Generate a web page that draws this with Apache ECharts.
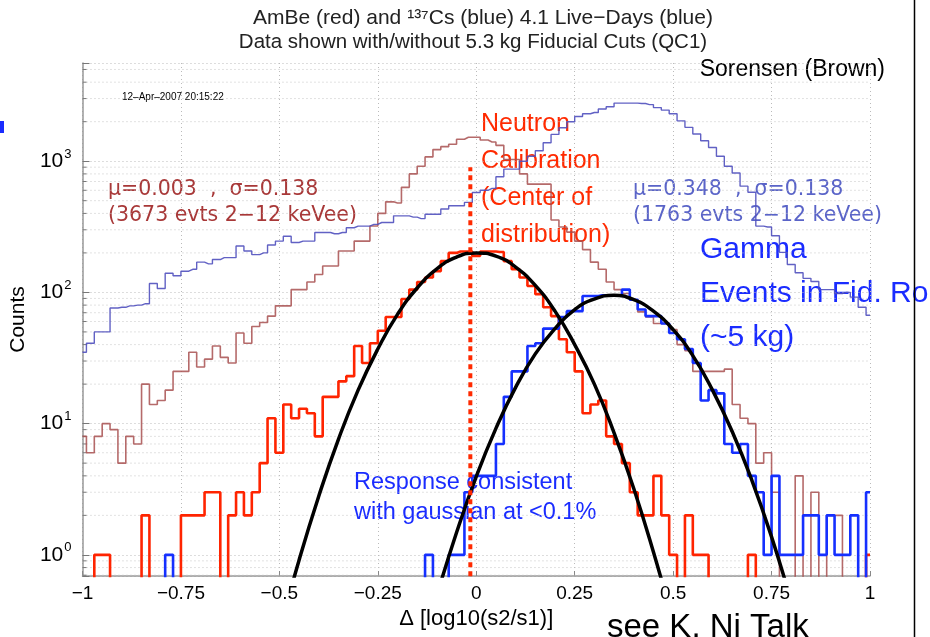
<!DOCTYPE html>
<html>
<head>
<meta charset="utf-8">
<script src="https://cdn.jsdelivr.net/npm/echarts@6/dist/echarts.min.js"></script>
<style>
html, body { margin: 0; padding: 0; background: #fff; }
#chart { width: 930px; height: 637px; }
</style>
</head>
<body>
<div id="chart"></div>
<script>
var NARROW = "'Liberation Sans Narrow', 'Liberation Sans', Arial, sans-serif";
var SANS = "'Liberation Sans', Arial, sans-serif";
var WIDE = "'DejaVu Sans', 'Liberation Sans', sans-serif";

// histogram binning: bin centres run from -1 to 1 in steps of 0.02
var binStart = -1;
var binWidth = 0.02;
var FLOOR = 0.1; // empty bins are drawn below the axis and clipped

// AmBe, no fiducial cut (brown)
var ambeAll = [8, 6, 8, 10, 9, 5, 8, 7, 20, 14, 15, 18, 25, 25, 35, 27, 31, 39, 32, 29,
  49, 41, 55, 59, 66, 79, 79, 105, 105, 120, 137, 159, 159, 207, 207, 246, 246, 321, 400, 490,
  480, 632, 800, 916, 1078, 1225, 1290, 1345, 1470, 1520, 1520, 1450, 1400, 1320, 1030, 1030, 800, 668, 668, 668,
  356, 315, 288, 246, 212, 170, 150, 120, 105, 98, 88, 71, 65, 58, 58, 52, 40, 36, 25, 25,
  25, 25, 26, 14, 11, 10, 5, 6, 3, 0, 0, 4, 0, 3, 0, 2, 2, 0, 0, 0, 0];
// 137Cs, no fiducial cut (purple)
var csAll = [35, 41, 50, 50, 76, 77, 79, 80, 82, 117, 107, 140, 134, 145, 150, 170, 165, 178, 184, 184,
  226, 207, 194, 200, 230, 246, 268, 240, 246, 246, 286, 286, 280, 286, 311, 320, 320, 330, 341, 341,
  383, 383, 375, 365, 394, 394, 432, 458, 458, 485, 577, 600, 620, 760, 870, 870, 1000, 1090, 1200, 1380,
  1600, 1800, 2000, 2190, 2300, 2350, 2500, 2600, 2770, 2770, 2770, 2750, 2700, 2560, 2450, 2300, 2030, 1810, 1610, 1430,
  1270, 1090, 916, 813, 645, 580, 320, 315, 270, 202, 163, 141, 128, 121, 105, 105, 98, 100, 92, 77, 67];
// AmBe, with fiducial cut (red)
var ambeCut = [0, 0, 1, 1, 0, 0, 0, 0, 2, 0, 0, 0, 0, 2, 2, 2, 3, 3, 0, 2,
  3, 2, 3, 5, 11, 6, 14, 11, 13, 12, 8, 16, 16, 21, 23, 39, 29, 41, 51, 65,
  65, 89, 105, 120, 130, 145, 173, 200, 205, 205, 190, 205, 205, 203, 173, 150, 130, 112, 97, 77,
  66, 44, 35, 25, 12, 14, 15, 8, 7, 5, 3, 2, 2, 4, 2, 1, 0, 2, 1, 1,
  0, 0, 0, 0, 0, 1, 0, 0, 0, 0, 0, 0, 0, 0, 0, 0, 0, 0, 0, 0, 1];
// 137Cs, with fiducial cut (blue)
var csCut = [0, 0, 0, 0, 0, 0, 0, 0, 0, 0, 0, 1, 0, 0, 0, 0, 0, 0, 0, 0,
  0, 0, 0, 0, 0, 0, 0, 0, 0, 0, 0, 0, 0, 0, 0, 0, 0, 0, 0, 0,
  0, 0, 0, 0, 1, 0, 0, 1, 1, 3, 4, 4, 4, 7, 16, 25, 25, 39, 41, 53,
  53, 65, 72, 72, 94, 94, 95, 95, 95, 105, 88, 74, 66, 66, 58, 49, 44, 37, 29, 15,
  18, 17, 7, 6, 7, 4, 3, 1, 4, 1, 1, 1, 2, 2, 1, 2, 1, 1, 2, 0, 3];

// gaussian fits
var fitNx = [-0.5, -0.45, -0.4, -0.35, -0.3, -0.25, -0.2, -0.15, -0.1, -0.05, 0, 0.05, 0.1, 0.15, 0.2, 0.25, 0.3, 0.35, 0.4, 0.45, 0.5];
var fitNy = [0.26, 0.91, 2.8, 7.6, 18, 37, 68, 108, 151, 186, 200, 189, 156, 113, 72, 40, 20, 8.5, 3.2, 1.05, 0.31];
var fitGx = [-0.1, -0.05, 0, 0.05, 0.1, 0.15, 0.2, 0.25, 0.3, 0.35, 0.4, 0.45, 0.5, 0.55, 0.6, 0.65, 0.7, 0.75, 0.8];
var fitGy = [0.49, 1.48, 3.95, 9.2, 18.9, 34, 53, 74, 89, 95, 88, 72, 52, 33, 18, 8.7, 3.7, 1.37, 0.44];

// neutron calibration centre (dotted red line)
var centreX = -0.015;
var centreTop = 900;

var minorTicks = [0.7, 0.8, 0.9, 2, 3, 4, 5, 6, 7, 8, 9, 20, 30, 40, 50, 60, 70, 80, 90,
  200, 300, 400, 500, 600, 700, 800, 900, 2000, 3000, 4000, 5000];

function hist(values) {
  return values.map(function (v, i) {
    return [+(binStart + i * binWidth).toFixed(2), v > 0 ? v : FLOOR];
  });
}
function pairs(xs, ys) {
  return xs.map(function (x, i) { return [x, ys[i]]; });
}
function stepSeries(values, color, width, z) {
  return {
    type: 'line', step: 'middle', data: hist(values), symbol: 'none',
    lineStyle: { color: color, width: width }, z: z, silent: true
  };
}

var myChart = echarts.init(document.getElementById('chart'));

var option = {
  animation: false,
  grid: { left: 81, right: 60, top: 63, bottom: 61 },
  xAxis: {
    type: 'value', min: -1, max: 1, interval: 0.25,
    name: 'Δ [log10(s2/s1)]', nameLocation: 'middle', nameGap: 31,
    nameTextStyle: { fontFamily: SANS, fontSize: 22, color: '#000' },
    axisLine: { onZero: false, lineStyle: { color: '#999', width: 1.5 } },
    axisTick: { inside: true, length: 5, lineStyle: { color: '#888' } },
    axisLabel: {
      fontFamily: SANS, fontSize: 19, color: '#000', margin: 8,
      formatter: function (v) { return String(v).replace('-', '\u2212'); }
    },
    splitLine: { show: true, lineStyle: { color: '#bbb', type: [1, 3] } }
  },
  yAxis: {
    type: 'log', logBase: 10, min: 0.69, max: 5600,
    name: 'Counts', nameLocation: 'middle', nameGap: 52, nameRotate: 90,
    nameTextStyle: { fontFamily: SANS, fontSize: 21, color: '#000' },
    axisLine: { show: true, onZero: false, lineStyle: { color: '#999', width: 1.5 } },
    axisTick: { inside: true, length: 7, lineStyle: { color: '#777' } },
    axisLabel: {
      margin: 11,
      formatter: function (v) {
        var e = Math.round(Math.log(v) / Math.LN10);
        if (Math.abs(Math.pow(10, e) - v) > 1e-6 * v) return '';
        return '{b|10}{e|' + e + '}';
      },
      rich: {
        b: { fontFamily: NARROW, fontSize: 21, color: '#000' },
        e: { fontFamily: NARROW, fontSize: 13, color: '#000', padding: [0, 0, 14, 1] }
      }
    },
    splitLine: { show: true, lineStyle: { color: '#bbb', type: [1, 3] } }
  },
  series: [
    {
      type: 'custom', silent: true, z: 1,
      data: minorTicks.map(function (v) { return [-1, v]; }),
      encode: { x: 0, y: 1 },
      renderItem: function (params, api) {
        var v = api.value(1);
        var a = api.coord([-1, v]);
        var b = api.coord([1, v]);
        return {
          type: 'group', children: [
            { type: 'line', shape: { x1: a[0], y1: a[1], x2: b[0], y2: b[1] },
              style: { stroke: '#c4c4c4', lineWidth: 1, lineDash: [1, 3] } },
            { type: 'line', shape: { x1: a[0], y1: a[1], x2: a[0] + 4, y2: a[1] },
              style: { stroke: '#777', lineWidth: 1 } }
          ]
        };
      }
    },
    stepSeries(ambeAll, 'rgba(168,80,80,0.85)', 1.6, 3),
    stepSeries(csAll, 'rgba(80,80,190,0.9)', 1.4, 3),
    stepSeries(ambeCut, '#ff2400', 2.6, 4),
    stepSeries(csCut, '#1530ff', 2.6, 5),
    {
      type: 'line', smooth: true, symbol: 'none', data: pairs(fitNx, fitNy),
      lineStyle: { color: '#000', width: 3.5 }, z: 6, silent: true
    },
    {
      type: 'line', smooth: true, symbol: 'none', data: pairs(fitGx, fitGy),
      lineStyle: { color: '#000', width: 3.5 }, z: 6, silent: true
    },
    {
      type: 'line', symbol: 'none', data: [[centreX, 0.5], [centreX, centreTop]],
      lineStyle: { color: '#ff2a00', width: 4, type: [5, 4] }, z: 7, silent: true
    }
  ],
  graphic: [
    { type: 'line', shape: { x1: 914.5, y1: 0, x2: 914.5, y2: 637 }, style: { stroke: '#000', lineWidth: 1.5 }, z: 1 },
    { type: 'rect', shape: { x: 0, y: 121, width: 4, height: 12 }, style: { fill: '#1a2cff' } },
    { type: 'text', x: 483, y: 18, style: { text: 'AmBe (red) and \u00b9\u00b3\u2077Cs (blue) 4.1 Live\u2212Days (blue)', font: '21px ' + NARROW, fill: '#222', textAlign: 'center', textVerticalAlign: 'middle' } },
    { type: 'text', x: 473, y: 42, style: { text: 'Data shown with/without 5.3 kg Fiducial Cuts (QC1)', font: '20.5px ' + NARROW, fill: '#222', textAlign: 'center', textVerticalAlign: 'middle' } },
    { type: 'text', x: 885, y: 70, style: { text: 'Sorensen (Brown)', font: '23px ' + NARROW, fill: '#000', textAlign: 'right', textVerticalAlign: 'middle' } },
    { type: 'text', x: 122, y: 97, style: { text: '12\u2013Apr\u20132007 20:15:22', font: '10px ' + NARROW, fill: '#000', textVerticalAlign: 'middle' } },
    { type: 'text', x: 108, y: 190, style: { text: '\u03bc=0.003  ,  \u03c3=0.138', font: '20.5px ' + WIDE, fill: '#a83838', textVerticalAlign: 'middle' } },
    { type: 'text', x: 108, y: 216, style: { text: '(3673 evts 2\u221212 keVee)', font: '20.5px ' + WIDE, fill: '#a83838', textVerticalAlign: 'middle' } },
    { type: 'text', x: 633, y: 190, style: { text: '\u03bc=0.348  ,  \u03c3=0.138', font: '20.5px ' + WIDE, fill: '#5a64c8', textVerticalAlign: 'middle' } },
    { type: 'text', x: 633, y: 216, style: { text: '(1763 evts 2\u221212 keVee)', font: '20.5px ' + WIDE, fill: '#5a64c8', textVerticalAlign: 'middle' } },
    { type: 'text', x: 481, y: 106, style: { text: 'Neutron\nCalibration\n(Center of\ndistribution)', font: '25px ' + SANS, lineHeight: 37, fill: '#ff2a00', textVerticalAlign: 'top' } },
    { type: 'text', x: 700, y: 228, style: { text: 'Gamma\nEvents in Fid. Ro\n(~5 kg)', font: '30px ' + SANS, lineHeight: 44, fill: '#1a2cff', textVerticalAlign: 'top' } },
    { type: 'text', x: 354, y: 468, style: { text: 'Response consistent\nwith gaussian at <0.1%', font: '23.5px ' + SANS, lineHeight: 30, fill: '#1a2cff', textVerticalAlign: 'top' } },
    { type: 'text', x: 607, y: 611, style: { text: 'see K. Ni Talk', font: '33px ' + SANS, fill: '#000', textVerticalAlign: 'top' } }
  ]
};

myChart.setOption(option);
window.addEventListener('resize', function () { myChart.resize(); });
</script>
</body>
</html>
